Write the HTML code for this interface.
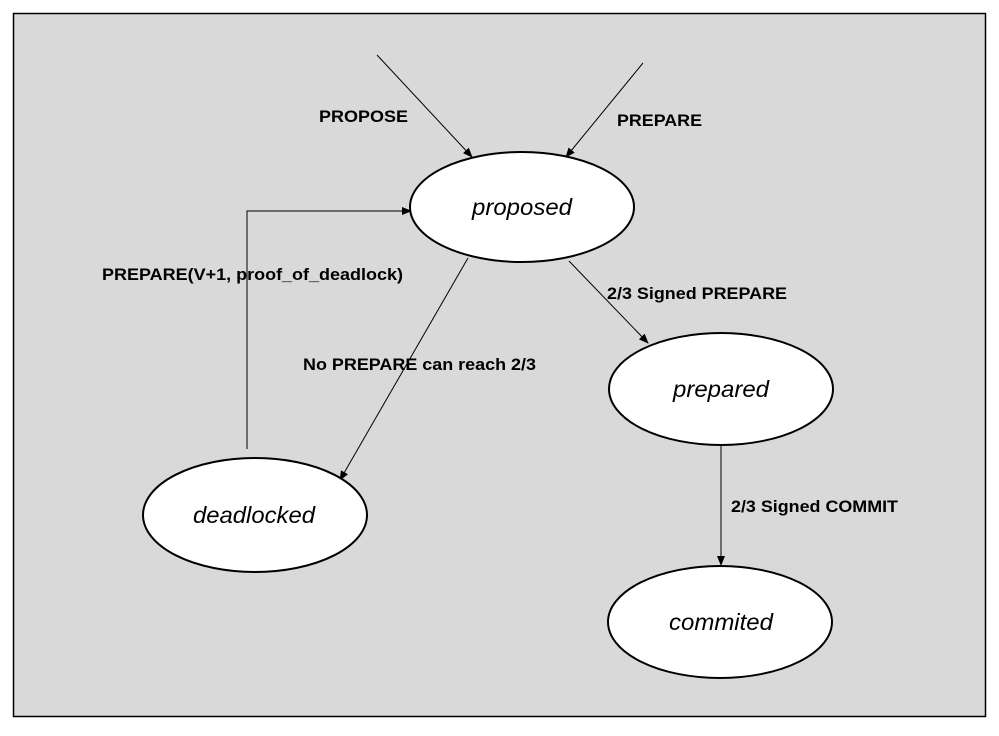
<!DOCTYPE html>
<html><head><meta charset="utf-8"><style>
html,body{margin:0;padding:0;background:#fff;}
svg{display:block;}
text{font-family:"Liberation Sans",Arial,sans-serif;}
.l{font-size:17px;font-weight:bold;fill:#000;}
.n{font-size:23px;font-style:italic;fill:#000;}
</style></head><body>
<svg width="999" height="736" viewBox="0 0 999 736" xmlns="http://www.w3.org/2000/svg">
<defs><marker id="a" markerWidth="10" markerHeight="8" refX="9" refY="4" orient="auto" markerUnits="userSpaceOnUse"><path d="M0,0 L10,4 L0,8 z" fill="#000"/></marker></defs>
<rect x="13.5" y="13.5" width="972" height="703" fill="#d9d9d9" stroke="#000" stroke-width="1.5"/>
<g stroke="#000" stroke-width="1" fill="none">
<line x1="377" y1="55" x2="472" y2="157" marker-end="url(#a)"/>
<line x1="643" y1="63" x2="566" y2="157" marker-end="url(#a)"/>
<polyline points="247,449 247,211 411,211" marker-end="url(#a)"/>
<line x1="468" y1="258" x2="340" y2="480" marker-end="url(#a)"/>
<line x1="569" y1="261" x2="648" y2="343" marker-end="url(#a)"/>
<line x1="721" y1="446" x2="721" y2="565" marker-end="url(#a)"/>
</g>
<g fill="#fff" stroke="#000" stroke-width="2">
<ellipse cx="522" cy="207" rx="112" ry="55"/>
<ellipse cx="721" cy="389" rx="112" ry="56"/>
<ellipse cx="255" cy="515" rx="112" ry="57"/>
<ellipse cx="720" cy="622" rx="112" ry="56"/>
</g>
<text class="n" x="472" y="215" textLength="100" lengthAdjust="spacingAndGlyphs">proposed</text>
<text class="n" x="673" y="397" textLength="96" lengthAdjust="spacingAndGlyphs">prepared</text>
<text class="n" x="193" y="523" textLength="122" lengthAdjust="spacingAndGlyphs">deadlocked</text>
<text class="n" x="669" y="630" textLength="104" lengthAdjust="spacingAndGlyphs">commited</text>
<text class="l" x="319" y="122" textLength="89" lengthAdjust="spacingAndGlyphs">PROPOSE</text>
<text class="l" x="617" y="126" textLength="85" lengthAdjust="spacingAndGlyphs">PREPARE</text>
<text class="l" x="102" y="280" textLength="301" lengthAdjust="spacingAndGlyphs">PREPARE(V+1, proof_of_deadlock)</text>
<text class="l" x="303" y="370" textLength="233" lengthAdjust="spacingAndGlyphs">No PREPARE can reach 2/3</text>
<text class="l" x="607" y="299" textLength="180" lengthAdjust="spacingAndGlyphs">2/3 Signed PREPARE</text>
<text class="l" x="731" y="512" textLength="167" lengthAdjust="spacingAndGlyphs">2/3 Signed COMMIT</text>
</svg>
</body></html>
